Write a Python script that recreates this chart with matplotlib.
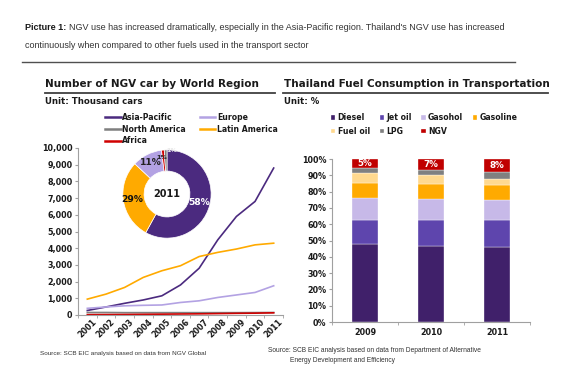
import matplotlib
matplotlib.use("Agg")
import matplotlib.pyplot as plt
from matplotlib.lines import Line2D
from matplotlib.ticker import FuncFormatter, FixedLocator
import numpy as np

# ---- data: NGV cars by world region (thousand cars) ----
years = ["2001", "2002", "2003", "2004", "2005", "2006",
         "2007", "2008", "2009", "2010", "2011"]
asia_pacific = [270, 480, 700, 900, 1150, 1800, 2800, 4500, 5900, 6800, 8800]
europe = [400, 480, 550, 580, 600, 750, 850, 1050, 1200, 1350, 1750]
north_america = [150, 150, 140, 140, 140, 140, 140, 140, 140, 145, 150]
latin_america = [950, 1250, 1650, 2250, 2650, 2950, 3500, 3750, 3950, 4200, 4300]
africa = [20, 25, 30, 40, 50, 60, 70, 85, 100, 110, 130]

# 2011 share (doughnut), clockwise from top
donut_labels = ["Asia-Pacific", "Latin America", "Europe", "Africa", "North America"]
donut_share = [58, 29, 11, 1, 1]

# ---- data: Thailand fuel consumption in transportation (%) ----
fuel_years = ["2009", "2010", "2011"]
diesel = [47.8, 46.9, 46.3]
jet_oil = [14.9, 15.8, 16.4]
gasohol = [13.6, 13.0, 12.2]
gasoline = [9.2, 9.0, 9.0]
fuel_oil = [6.1, 5.5, 3.9]
lpg = [3.1, 3.2, 4.0]
ngv = [5.3, 6.6, 8.2]

W, H = 580, 378
fig = plt.figure(figsize=(W / 100, H / 100), dpi=100)
fig.patch.set_facecolor("white")


def fx(px):
    return px / W


def fy(py):
    return 1 - py / H


BOLD = "DejaVu Sans"
TXT = "#1a1a1a"

# ---- header ----
t1 = fig.text(fx(25), fy(27), "Picture 1:", family="Liberation Sans", weight="bold",
              fontsize=6.5, va="center", color=TXT)
fig.canvas.draw()
r = fig.canvas.get_renderer()
bb = t1.get_window_extent(r)
fig.text(bb.x1 / W + 0.004, fy(27),
         "NGV use has increased dramatically, especially in the Asia-Pacific region. "
         "Thailand's NGV use has increased",
         family="Liberation Sans", fontsize=6.5, va="center", color="#333333")
fig.text(fx(25), fy(45), "continuously when compared to other fuels used in the transport sector",
         family="Liberation Sans", fontsize=6.5, va="center", color="#333333")
fig.add_artist(Line2D([fx(22), fx(515)], [fy(62), fy(62)], color="#505050", lw=1))

# ---- panel titles ----
fig.text(fx(45), fy(84), "Number of NGV car by World Region", family=BOLD, weight="bold",
         fontsize=7.5, va="center", color=TXT)
fig.text(fx(45), fy(101), "Unit: Thousand cars", family=BOLD, weight="bold",
         fontsize=6.2, va="center", color=TXT)
fig.add_artist(Line2D([fx(45), fx(275)], [fy(93), fy(93)], color="#404040", lw=1.3))

fig.text(fx(284), fy(84), "Thailand Fuel Consumption in Transportation", family=BOLD,
         weight="bold", fontsize=7.5, va="center", color=TXT)
fig.text(fx(284), fy(101), "Unit: %", family=BOLD, weight="bold",
         fontsize=6.2, va="center", color=TXT)
fig.add_artist(Line2D([fx(283), fx(548)], [fy(93), fy(93)], color="#404040", lw=1.3))

# ---- left: line chart ----
ax1 = fig.add_axes([fx(78), fy(315), fx(283) - fx(78), fy(148) - fy(315)])
x = np.arange(len(years))
c_ap, c_eu, c_na, c_la, c_af = "#4B2A7F", "#B3A2E3", "#7F7F7F", "#FFAA00", "#D00000"
l_ap, = ax1.plot(x, asia_pacific, color=c_ap, lw=1.2, label="Asia-Pacific")
l_eu, = ax1.plot(x, europe, color=c_eu, lw=1.2, label="Europe")
l_na, = ax1.plot(x, north_america, color=c_na, lw=1.2, label="North America")
l_la, = ax1.plot(x, latin_america, color=c_la, lw=1.2, label="Latin America")
l_af, = ax1.plot(x, africa, color=c_af, lw=1.2, label="Africa")
ax1.set_xlim(-0.5, len(years) - 0.5)
ax1.set_ylim(0, 10000)
ax1.set_yticks(np.arange(0, 10001, 1000))
ax1.yaxis.set_major_formatter(FuncFormatter(lambda v, p: f"{int(v):,}"))
ax1.set_xticks(x)
ax1.set_xticklabels(years, rotation=45, ha="center")
ax1.xaxis.set_minor_locator(FixedLocator(np.arange(-0.5, len(years), 1)))
ax1.tick_params(axis="x", which="major", length=0, pad=2)
ax1.tick_params(axis="x", which="minor", length=2, color="#A0A0A0")
ax1.tick_params(axis="y", length=2, color="#A0A0A0", pad=2)
for lab in ax1.get_xticklabels() + ax1.get_yticklabels():
    lab.set_fontsize(5.8)
    lab.set_fontweight("bold")
    lab.set_color(TXT)
for s in ["top", "right"]:
    ax1.spines[s].set_visible(False)
for s in ["left", "bottom"]:
    ax1.spines[s].set_color("#A0A0A0")
    ax1.spines[s].set_linewidth(0.8)

leg1 = fig.legend(handles=[l_ap, l_na, l_af, l_eu, l_la], ncol=2,
                  loc="upper left", bbox_to_anchor=(fx(105), fy(113)),
                  frameon=False, fontsize=5.6, handlelength=2.0, handletextpad=0.2,
                  columnspacing=1.8, labelspacing=0.35, borderaxespad=0, borderpad=0)
for t in leg1.get_texts():
    t.set_fontweight("bold")
    t.set_color(TXT)
for h in leg1.legend_handles:
    h.set_linewidth(1.8)

# doughnut inset
R = 45
axd = fig.add_axes([fx(167 - R), fy(194 + R), fx(2 * R), fy(0) - fy(2 * R)])
donut_colors = [c_ap, c_la, c_eu, c_af, c_na]
wedges, _ = axd.pie(donut_share, colors=donut_colors, startangle=90, counterclock=False,
                    radius=1, wedgeprops=dict(width=0.48, edgecolor="white", linewidth=0.5))
axd.set_aspect("equal")
axd.set_xlim(-1.02, 1.02)
axd.set_ylim(-1.02, 1.02)
axd.axis("off")
label_r = [0.76, 0.79, 0.8, 0.84, 0.99]
label_dx = [0, 0, 0, -0.04, 0.14]
label_c = ["white", "#111111", "#222222", "#222222", "#E8E8E8"]
label_s = [6.6, 6.6, 6.6, 4.6, 4.6]
for w, share, rr, dx, cc, ss in zip(wedges, donut_share, label_r, label_dx, label_c, label_s):
    th = np.deg2rad((w.theta1 + w.theta2) / 2)
    axd.text(rr * np.cos(th) + dx, rr * np.sin(th), f"{share}%", ha="center", va="center",
             fontsize=ss, fontweight="bold", color=cc)
axd.text(0, 0, "2011", ha="center", va="center", fontsize=7, fontweight="bold", color=TXT)

# ---- right: stacked bars ----
ax2 = fig.add_axes([fx(332), fy(322), fx(530) - fx(332), fy(159) - fy(322)])
series = [("Diesel", diesel, "#40206A"), ("Jet oil", jet_oil, "#5E45AD"),
          ("Gasohol", gasohol, "#C7B9E8"), ("Gasoline", gasoline, "#FFAA00"),
          ("Fuel oil", fuel_oil, "#FFD98F"), ("LPG", lpg, "#808080"),
          ("NGV", ngv, "#C00000")]
xb = np.arange(len(fuel_years))
bottom = np.zeros(len(fuel_years))
bars = {}
for name, vals, col in series:
    v = np.array(vals) / 100
    bars[name] = ax2.bar(xb, v, 0.39, bottom=bottom, color=col, label=name,
                         edgecolor="white", linewidth=0.25)
    bottom = bottom + v
for i, v in enumerate(ngv):
    top = bottom[i]
    ax2.text(xb[i], top - v / 200, f"{v:.0f}%", ha="center", va="center",
             fontsize=6.3, fontweight="bold", color="white")
ax2.set_xlim(-0.5, len(fuel_years) - 0.5)
ax2.set_ylim(0, 1.0)
ax2.set_yticks(np.arange(0, 1.01, 0.1))
ax2.yaxis.set_major_formatter(FuncFormatter(lambda v, p: f"{v * 100:.0f}%"))
ax2.set_xticks(xb)
ax2.set_xticklabels(fuel_years)
ax2.xaxis.set_minor_locator(FixedLocator(np.arange(-0.5, len(fuel_years), 1)))
ax2.tick_params(axis="x", which="major", length=0, pad=4)
ax2.tick_params(axis="x", which="minor", length=2, color="#A0A0A0")
ax2.tick_params(axis="y", length=2, color="#A0A0A0", pad=2)
for lab in ax2.get_xticklabels() + ax2.get_yticklabels():
    lab.set_fontsize(5.8)
    lab.set_fontweight("bold")
    lab.set_color(TXT)
for s in ["top", "right"]:
    ax2.spines[s].set_visible(False)
for s in ["left", "bottom"]:
    ax2.spines[s].set_color("#A0A0A0")
    ax2.spines[s].set_linewidth(0.8)

order = ["Diesel", "Fuel oil", "Jet oil", "LPG", "Gasohol", "NGV", "Gasoline"]
leg2 = fig.legend(handles=[bars[n] for n in order], ncol=4,
                  loc="upper left", bbox_to_anchor=(fx(331), fy(113)),
                  frameon=False, fontsize=5.6, handlelength=0.55, handleheight=0.55,
                  handletextpad=0.3, columnspacing=1.25, labelspacing=0.6,
                  borderaxespad=0, borderpad=0)
for t in leg2.get_texts():
    t.set_fontweight("bold")
    t.set_color(TXT)

# ---- sources ----
fig.text(fx(40), fy(353), "Source: SCB EIC analysis based on data from NGV Global",
         family="Liberation Sans", fontsize=4.6, va="center", color="#333333")
fig.text(fx(268), fy(351),
         "Source: SCB EIC analysis based on data from Department of Alternative",
         family="Liberation Sans", fontsize=4.75, va="center", color="#333333")
fig.text(fx(290), fy(361), "Energy Development and Efficiency",
         family="Liberation Sans", fontsize=4.75, va="center", color="#333333")

fig.savefig("out.png", dpi=100)
